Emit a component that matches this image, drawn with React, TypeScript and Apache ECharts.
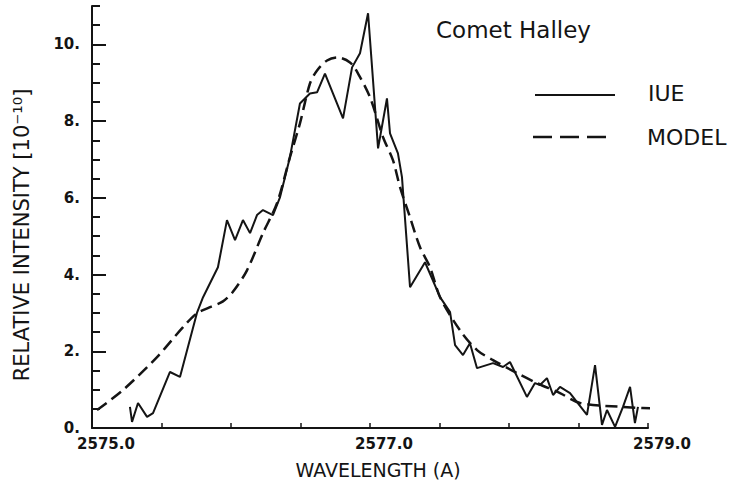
import React, { useEffect, useRef } from "react";
import * as echarts from "echarts";

const iueWavelength = [
  2575.273, 2575.288, 2575.331, 2575.396, 2575.439, 2575.561, 2575.633, 2575.755, 2575.799,
  2575.906, 2575.971, 2576.029, 2576.086, 2576.137, 2576.187, 2576.23, 2576.302, 2576.353,
  2576.424, 2576.496, 2576.568, 2576.619, 2576.676, 2576.806, 2576.871, 2576.928, 2576.986,
  2577.058, 2577.122, 2577.144, 2577.201, 2577.23, 2577.288, 2577.396, 2577.504, 2577.576,
  2577.612, 2577.669, 2577.719, 2577.77, 2577.885, 2577.957, 2578.007, 2578.129, 2578.187,
  2578.223, 2578.273, 2578.317, 2578.367, 2578.439, 2578.561, 2578.619, 2578.669, 2578.705,
  2578.763, 2578.82, 2578.871, 2578.906, 2578.928,
];
const iueIntensity = [
  0.55, 0.16, 0.65, 0.29, 0.39, 1.46, 1.33, 3.0, 3.41,
  4.19, 5.42, 4.9, 5.42, 5.08, 5.55, 5.68, 5.55, 6.02,
  7.06, 8.46, 8.72, 8.75, 9.24, 8.07, 9.4, 9.77, 10.81,
  7.29, 8.59, 7.68, 7.16, 6.54, 3.67, 4.32, 3.41, 3.02,
  2.16, 1.9, 2.21, 1.56, 1.69, 1.59, 1.72, 0.81, 1.17,
  1.12, 1.3, 0.86, 1.07, 0.91, 0.34, 1.64, 0.08, 0.47,
  0.03, 0.55, 1.07, 0.13, 0.55,
];

const modelWavelength = [
  2575.036, 2575.223, 2575.468, 2575.655, 2575.755, 2575.849, 2575.942, 2576.014, 2576.115,
  2576.23, 2576.331, 2576.424, 2576.496, 2576.568, 2576.619, 2576.691, 2576.763, 2576.856,
  2576.914, 2577.0, 2577.094, 2577.165, 2577.216, 2577.288, 2577.36, 2577.432, 2577.504,
  2577.647, 2577.77, 2577.885, 2578.058, 2578.201, 2578.367, 2578.511, 2578.82, 2579.144,
];
const modelIntensity = [
  0.47, 0.99, 1.85, 2.63, 2.99, 3.15, 3.3, 3.55, 4.11,
  5.08, 5.86, 7.06, 7.94, 8.98, 9.32, 9.58, 9.66, 9.53,
  9.24, 8.62, 7.58, 6.98, 6.28, 5.49, 4.71, 4.19, 3.41,
  2.55, 2.03, 1.77, 1.43, 1.17, 0.91, 0.65, 0.55, 0.49,
];

const seriesNames = ["IUE", "MODEL"];
const xTickLabels = [2575, 2577, 2579];
const yTickLabels = [0, 2, 4, 6, 8, 10];

const INK = "#141414";
const FONT = "DejaVu Sans";

export default function App() {
  const ref = useRef<HTMLDivElement>(null);

  useEffect(() => {
    document.body.style.margin = "0";
    if (!ref.current) return;
    const chart = echarts.init(ref.current, undefined, { renderer: "svg" });
    const iueData = iueWavelength.map((w, i) => [w, iueIntensity[i]]);
    const modelData = modelWavelength.map((w, i) => [w, modelIntensity[i]]);

    const yBase = {
      type: "value",
      min: 0,
      max: 11,
      interval: 0.5,
      position: "left",
      offset: 0,
      splitLine: { show: false },
    };

    chart.setOption({
      animation: false,
      backgroundColor: "#ffffff",
      title: {
        text: "Comet Halley",
        left: 431,
        top: 13,
        textStyle: { fontFamily: FONT, fontSize: 23, fontWeight: "normal", color: INK },
      },
      graphic: [
        {
          type: "line",
          shape: { x1: 535, y1: 95, x2: 615, y2: 95 },
          style: { stroke: INK, lineWidth: 2 },
        },
        {
          type: "text",
          x: 648,
          y: 93,
          style: {
            text: seriesNames[0],
            fontFamily: FONT,
            fontSize: 22,
            fill: INK,
            verticalAlign: "middle",
          },
        },
        {
          type: "line",
          shape: { x1: 533, y1: 137, x2: 613, y2: 137 },
          style: { stroke: INK, lineWidth: 2.5, lineDash: [19, 8] },
        },
        {
          type: "text",
          x: 647,
          y: 137,
          style: {
            text: seriesNames[1],
            fontFamily: FONT,
            fontSize: 22,
            fill: INK,
            verticalAlign: "middle",
          },
        },
      ],
      grid: { left: 92, right: 103, top: 6, bottom: 58, containLabel: false },
      xAxis: {
        type: "value",
        min: 2575,
        max: 2579,
        interval: 0.5,
        name: "WAVELENGTH (A)",
        nameLocation: "middle",
        nameGap: 32,
        nameTextStyle: {
          fontFamily: FONT,
          fontSize: 19,
          color: INK,
          padding: [0, 0, 0, 16],
        },
        axisLine: { show: true, lineStyle: { color: INK, width: 2 } },
        axisTick: { show: true, inside: true, length: 5, lineStyle: { color: INK, width: 1.5 } },
        axisLabel: {
          customValues: xTickLabels,
          formatter: (v: number) => v.toFixed(1),
          fontFamily: FONT,
          fontSize: 15,
          fontWeight: "bold",
          color: INK,
          margin: 8,
          padding: [0, 0, 0, 28],
        },
        splitLine: { show: false },
      },
      yAxis: [
        {
          ...yBase,
          name: "RELATIVE INTENSITY [10⁻¹⁰]",
          nameLocation: "middle",
          nameGap: 60,
          nameRotate: 90,
          nameTextStyle: { fontFamily: FONT, fontSize: 21, color: INK, padding: [0, 36, 0, 0] },
          axisLine: { show: true, lineStyle: { color: INK, width: 2 } },
          axisTick: {
            show: true,
            inside: true,
            length: 14,
            customValues: yTickLabels,
            lineStyle: { color: INK, width: 2 },
          },
          axisLabel: {
            customValues: yTickLabels,
            formatter: (v: number) => `${v}.`,
            fontFamily: FONT,
            fontSize: 15,
            fontWeight: "bold",
            color: INK,
            margin: 12,
          },
        },
        {
          ...yBase,
          axisLine: { show: false },
          axisTick: { show: true, inside: true, length: 8, lineStyle: { color: INK, width: 2 } },
          axisLabel: { show: false },
        },
      ],
      series: [
        {
          name: seriesNames[0],
          type: "line",
          yAxisIndex: 0,
          data: iueData,
          showSymbol: false,
          symbol: "none",
          clip: false,
          lineStyle: { color: INK, width: 2 },
          itemStyle: { color: INK },
        },
        {
          name: seriesNames[1],
          type: "line",
          yAxisIndex: 1,
          data: modelData,
          showSymbol: false,
          symbol: "none",
          smooth: 0.3,
          clip: false,
          lineStyle: { color: INK, width: 2.5, type: [12, 6] },
          itemStyle: { color: INK },
        },
      ],
    });
    return () => chart.dispose();
  }, []);

  return <div ref={ref} style={{ width: 751, height: 486 }} />;
}
